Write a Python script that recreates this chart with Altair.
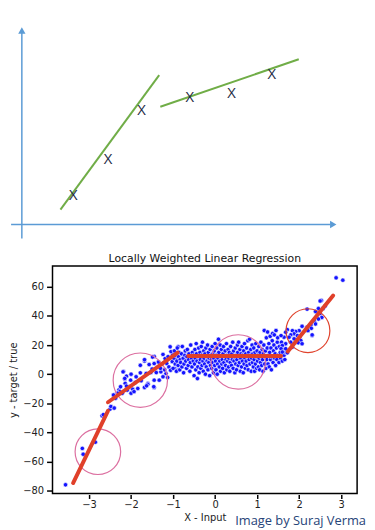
import altair as alt
import pandas as pd

# ---------------- top diagram (abstract units, origin = axis crossing) ----------------
diag_axis_u = [-0.34, 0.0]
diag_axis_u2 = [9.75, 0.0]
diag_axis_v = [0.0, -0.44]
diag_axis_v2 = [0.0, 6.1]
diag_arrow_u = [0.0, 9.84]
diag_arrow_v = [6.13, 0.0]
diag_arrow_shape = ["triangle-up", "triangle-right"]

diag_fit_u = [1.22, 4.375]
diag_fit_v = [0.47, 3.72]
diag_fit_u2 = [4.34, 8.75]
diag_fit_v2 = [4.72, 5.22]

diag_pts_u = [1.625, 2.72, 3.78, 5.31, 6.625, 7.9]
diag_pts_v = [0.94, 2.06, 3.625, 4.03, 4.16, 4.75]

# ---------------- bottom chart data ----------------
tail_pts = [(-3.56, -76), (-3.16, -51), (-3.14, -55), (-2.85, -46.7), (-2.69, -28.6),
            (-2.66, -27.8), (-2.50, -24), (-2.41, -23.3), (-2.48, -22.2), (-2.40, -23.3)]
left_pts = [(-2.35, -13.6), (-2.29, -10.9), (-2.21, -13.1), (-2.39, -15.4), (-2.18, 1.8),
            (-2.11, -1.4), (-2.15, -3.4), (-2.10, -10.9), (-1.07, 18.8), (-0.88, 18.8),
            (-1.24, 13.6), (-1.45, 12.2), (-1.01, 13.6), (-0.93, 10.7), (-1.02, 8.6),
            (-1.78, 6.1), (-1.68, 9.0), (-1.57, 6.6), (-1.45, 7.3), (-1.35, 8.4),
            (-1.27, 6.8), (-1.15, 7.3), (-1.10, 5.0), (-2.19, 1.6), (-2.00, 0.0),
            (-1.88, -1.8), (-1.78, 0.9), (-1.64, 0.5), (-1.53, 1.1), (-1.40, 1.1),
            (-1.29, 1.6), (-1.17, 0.5), (-1.06, 2.7), (-0.96, 3.9), (-0.88, 2.7),
            (-2.15, -2.9), (-2.01, -4.1), (-1.90, -5.7), (-1.76, -4.5), (-1.60, -6.3),
            (-1.45, -4.1), (-1.33, -4.1), (-1.24, -1.8), (-1.13, -2.3), (-2.14, -6.3),
            (-2.25, -8.6), (-2.04, -8.6), (-1.96, -10.4), (-1.84, -9.8), (-1.68, -9.1),
            (-1.60, -7.0), (-1.45, -9.1), (-2.00, -13.1), (-2.09, -10.9), (-2.27, -12.0),
            (-2.32, -13.1), (-2.42, -14.3), (-2.37, -16.5), (-1.46, -8.6), (-1.63, -8.0),
            (-1.93, -12.0), (-2.11, -8.2), (-1.68, 10.0), (-1.49, 11.8), (-1.19, 10.7),
            (-1.30, 4.0), (-1.20, 3.0), (-1.50, 3.5), (-1.12, 12.0), (-1.05, 15.5)]
band_pts = [(-1.0, 4), (-0.98, 11), (-0.97, 16), (-0.95, 7), (-0.94, 13), (-0.92, 2), (-0.91, 9),
            (-0.9, 18), (-0.88, 6), (-0.87, 12), (-0.86, 15), (-0.84, 3), (-0.83, 10), (-0.82, 8),
            (-0.8, 14), (-0.79, 5), (-0.78, 19), (-0.76, 11), (-0.75, 1), (-0.74, 7), (-0.72, 13),
            (-0.71, 16), (-0.7, 9), (-0.68, 4), (-0.67, 12), (-0.66, 17), (-0.64, 6), (-0.63, 10),
            (-0.62, 14), (-0.6, 2), (-0.59, 8), (-0.58, 20), (-0.56, 11), (-0.55, 5), (-0.54, 15),
            (-0.52, 9), (-0.51, 13), (-0.5, -1),
            (-0.49, 7), (-0.48, 17), (-0.47, 11), (-0.46, 3), (-0.45, 21), (-0.44, 14), (-0.43, 9),
            (-0.42, -3), (-0.41, 5), (-0.4, 12), (-0.39, 18), (-0.38, 1), (-0.37, 8), (-0.36, 15),
            (-0.35, 10), (-0.34, 4), (-0.33, 19), (-0.32, 13), (-0.31, 6), (-0.3, 22), (-0.29, 9),
            (-0.28, 2), (-0.27, 16), (-0.26, 11), (-0.25, 7), (-0.24, 14), (-0.23, 0), (-0.22, 18),
            (-0.21, 5), (-0.2, 12), (-0.19, 9), (-0.18, 20), (-0.17, 3), (-0.16, 15), (-0.15, 8),
            (-0.14, 11), (-0.13, -1), (-0.12, 17), (-0.11, 6), (-0.1, 13), (-0.09, 10), (-0.08, 4),
            (-0.07, 19), (-0.06, 8), (-0.05, 14), (-0.04, 1), (-0.03, 11), (-0.02, 16), (-0.01, 6),
            (0.0, 21),
            (0.01, 9), (0.02, 3), (0.03, 13), (0.04, 18), (0.05, 0), (0.06, 7), (0.07, 11), (0.08, 24),
            (0.09, 15), (0.1, 5), (0.11, 9), (0.12, 20), (0.13, 2), (0.14, 12), (0.15, 17), (0.16, 7),
            (0.17, 10), (0.18, 4), (0.19, 14), (0.2, 19), (0.21, 8), (0.22, 1), (0.23, 12), (0.24, 16),
            (0.25, 6), (0.26, 10), (0.27, 21), (0.28, 3), (0.29, 13), (0.3, 9), (0.31, 17), (0.32, 5),
            (0.33, 11), (0.34, 15), (0.35, 2), (0.36, 8), (0.37, 19), (0.38, 12), (0.39, 6), (0.4, 14),
            (0.41, 10), (0.42, 22), (0.43, 4), (0.44, 16), (0.45, 9), (0.46, 12), (0.47, 1), (0.48, 18),
            (0.49, 7), (0.5, 13),
            (0.51, 3), (0.52, 10), (0.53, 20), (0.54, 15), (0.55, 6), (0.56, 22), (0.57, 12), (0.58, 8),
            (0.59, 17), (0.6, 2), (0.61, 11), (0.62, 14), (0.63, 5), (0.64, 19), (0.65, 9), (0.66, 13),
            (0.67, 1), (0.68, 16), (0.69, 7), (0.7, 21), (0.71, 11), (0.72, 4), (0.73, 14), (0.74, 9),
            (0.75, 18), (0.76, 6), (0.77, 12), (0.78, 23), (0.79, 3), (0.8, 15), (0.81, 10), (0.82, 24),
            (0.83, 7), (0.84, 13), (0.85, 17), (0.86, 2), (0.87, 11), (0.88, 20), (0.89, 8), (0.9, 14),
            (0.91, 5), (0.92, 18), (0.93, 10), (0.94, 2), (0.95, 15), (0.96, 7), (0.97, 21), (0.98, 12),
            (0.99, 4), (1.0, 16),
            (1.01, 9), (1.02, 13), (1.03, 5), (1.04, 19), (1.05, 11), (1.06, 3), (1.07, 15), (1.08, 8),
            (1.09, 22), (1.1, 12), (1.11, 6), (1.12, 17), (1.13, 10), (1.14, 2), (1.15, 14), (1.16, 20),
            (1.17, 30), (1.18, 7), (1.19, 12), (1.2, 16), (1.21, 4), (1.22, 25), (1.23, 10), (1.24, 18),
            (1.25, 29), (1.26, 7), (1.27, 13), (1.28, 21), (1.29, 5), (1.3, 15), (1.31, 26), (1.32, 10),
            (1.33, 18), (1.34, 3), (1.35, 12), (1.36, 23), (1.37, 28), (1.38, 8), (1.39, 16), (1.4, 20),
            (1.41, 27), (1.42, 11), (1.43, 14), (1.44, 6), (1.45, 30), (1.46, 18), (1.47, 10),
            (1.48, 22), (1.49, 25), (1.5, 13), (1.52, 8), (1.53, 19), (1.55, 15), (1.56, 11),
            (1.58, 22), (1.6, 9), (1.62, 17), (1.64, 13), (1.66, 10), (1.68, 15)]
right_pts = [(2.88, 66.2), (3.04, 64.6), (2.53, 50.6), (2.62, 46.9), (2.46, 45.1), (2.57, 45.1),
             (2.19, 44.7), (2.39, 43.1), (2.50, 41.7), (2.54, 39.0), (2.46, 37.9), (2.36, 36.3),
             (2.39, 34.5), (2.28, 33.8), (2.19, 32.2), (2.07, 32.9), (2.29, 31.5), (2.21, 29.9),
             (2.31, 26.5), (2.00, 29.9), (1.92, 29.3), (1.84, 29.9), (1.72, 30.6), (1.68, 28.8),
             (1.88, 27.7), (1.80, 27.0), (1.96, 26.5), (2.01, 25.4), (1.76, 25.4), (1.64, 25.4),
             (1.57, 26.5), (1.88, 24.3), (2.04, 23.1), (1.98, 21.6), (2.07, 20.9), (1.80, 22.0),
             (1.68, 20.9), (1.60, 19.7), (1.57, 17.5), (1.68, 17.5), (1.84, 18.6), (1.60, 15.2),
             (1.72, 14.7), (2.50, 50.3), (2.31, 27.0)]

fit_x = [-3.38, -2.55, -0.64, 1.73]
fit_y = [-74.8, -19.3, 12.5, 15.6]
fit_x2 = [-2.55, -0.89, 1.57, 2.81]
fit_y2 = [-25.2, 14.8, 12.5, 54.0]

circle_x = [-2.79, -1.78, 0.55, 2.21]
circle_y = [-53.3, -4.1, 8.4, 29.9]
circle_kind = ["pink", "pink", "pink", "red"]

x_ticks = [-3, -2, -1, 0, 1, 2, 3]
y_ticks = [-80, -60, -40, -20, 0, 20, 40, 60]

# ---------------- styles ----------------
circle_radius_px = [26, 31, 31, 25]
AXIS_BLUE = "#5b9bd5"
GREEN = "#70ad47"
FONT = "DejaVu Sans"

# ---------------- top panel ----------------
# plot area is aligned with the lower chart's frame; marks left of it are drawn unclipped
xs_top = alt.Scale(domain=[0.96875, 10.875], nice=False, zero=False)
ys_top = alt.Scale(domain=[-0.625, 6.75], nice=False, zero=False)

axes_df = pd.DataFrame({"u": diag_axis_u, "u2": diag_axis_u2, "v": diag_axis_v, "v2": diag_axis_v2})
arrow_df = pd.DataFrame({"u": diag_arrow_u, "v": diag_arrow_v, "shape": diag_arrow_shape})
dfit_df = pd.DataFrame({"u": diag_fit_u, "v": diag_fit_v, "u2": diag_fit_u2, "v2": diag_fit_v2})
dpts_df = pd.DataFrame({"u": diag_pts_u, "v": diag_pts_v})

top_axes = alt.Chart(axes_df).mark_rule(color=AXIS_BLUE, strokeWidth=1.5).encode(
    x=alt.X("u:Q", scale=xs_top, axis=None), x2="u2:Q",
    y=alt.Y("v:Q", scale=ys_top, axis=None), y2="v2:Q")
top_arrows = alt.Chart(arrow_df).mark_point(filled=True, opacity=1, size=55, color=AXIS_BLUE).encode(
    x=alt.X("u:Q", scale=xs_top, axis=None), y=alt.Y("v:Q", scale=ys_top, axis=None),
    shape=alt.Shape("shape:N", scale=None))
top_fit = alt.Chart(dfit_df).mark_rule(color=GREEN, strokeWidth=2).encode(
    x=alt.X("u:Q", scale=xs_top, axis=None), x2="u2:Q",
    y=alt.Y("v:Q", scale=ys_top, axis=None), y2="v2:Q")
top_pts = alt.Chart(dpts_df).mark_text(text="X", font="Open Sans", fontSize=15,
                                       color="#1c2a44", baseline="middle", align="center").encode(
    x=alt.X("u:Q", scale=xs_top, axis=None), y=alt.Y("v:Q", scale=ys_top, axis=None))

top = alt.layer(top_axes, top_fit, top_arrows, top_pts).properties(
    width=317, height=236, view=alt.ViewBackground(stroke=None))

# ---------------- bottom panel ----------------
pts = tail_pts + left_pts + band_pts + right_pts
pts_df = pd.DataFrame({"x": [p[0] for p in pts], "y": [p[1] for p in pts]})
fit_df = pd.DataFrame({"x": fit_x, "y": fit_y, "x2": fit_x2, "y2": fit_y2})
circ_df = pd.DataFrame({"x": circle_x, "y": circle_y, "kind": circle_kind,
                        "area": [3.14159 * r * r for r in circle_radius_px]})

xs = alt.Scale(domain=[-3.87, 3.38], nice=False, zero=False)
ys = alt.Scale(domain=[-82, 74.3], nice=False, zero=False)
xax = alt.Axis(values=x_ticks, format="d", title="X - Input", grid=False, domain=False,
               tickSize=4, tickWidth=1.5, tickColor="black", offset=1, labelPadding=1,
               labelOverlap=False, labelFontSize=10, labelColor="#222", labelFont=FONT,
               titleFont=FONT, titleFontSize=10, titleFontWeight="normal", titlePadding=3,
               titleColor="#222")
yax = alt.Axis(values=y_ticks, format="d", title="y - target / true", grid=False, domain=False,
               tickSize=5, tickWidth=1.5, tickColor="black", offset=1, labelPadding=3,
               labelOverlap=False, labelFontSize=10, labelColor="#222", labelFont=FONT,
               titleFont=FONT, titleFontSize=10, titleFontWeight="normal", titlePadding=4,
               titleColor="#222")

X = alt.X("x:Q", scale=xs, axis=xax)
Y = alt.Y("y:Q", scale=ys, axis=yax)

b_pts = alt.Chart(pts_df).mark_circle(size=20, color="#1414ff", opacity=1,
                                      stroke="white", strokeWidth=0.6).encode(x=X, y=Y)
b_circ = alt.Chart(circ_df).mark_point(shape="circle", filled=False, strokeWidth=1.2, opacity=1).encode(
    x=X, y=Y,
    size=alt.Size("area:Q", scale=None),
    color=alt.Color("kind:N", scale=alt.Scale(domain=["pink", "red"], range=["#dc6fa0", "#e0442e"]),
                    legend=None))
b_fit = alt.Chart(fit_df).mark_rule(color="#e0402a", strokeWidth=4, strokeCap="round").encode(
    x=X, x2="x2:Q", y=Y, y2="y2:Q")
credit = alt.Chart(pd.DataFrame({"t": ["Image by Suraj Verma"]})).mark_text(
    font="Open Sans", fontSize=13, color="#264478", align="right", baseline="middle").encode(
    text="t:N", x=alt.value(317), y=alt.value(258))
spacer = alt.Chart(pd.DataFrame({"t": [0]})).mark_rule(color="white", strokeWidth=1).encode(
    x=alt.value(-42), x2=alt.value(-41), y=alt.value(1))

bottom = alt.layer(b_pts, b_circ, b_fit, credit, spacer).properties(
    width=308, height=230,
    title=alt.TitleParams("Locally Weighted Linear Regression", fontSize=11, fontWeight="normal",
                          font=FONT, offset=2, color="#111"),
    view=alt.ViewBackground(stroke="black", strokeWidth=1.5))

chart = alt.vconcat(top, bottom, spacing=8).properties(padding=0, background="white")

chart.save("out.html", embed_options={"renderer": "svg", "actions": False})
